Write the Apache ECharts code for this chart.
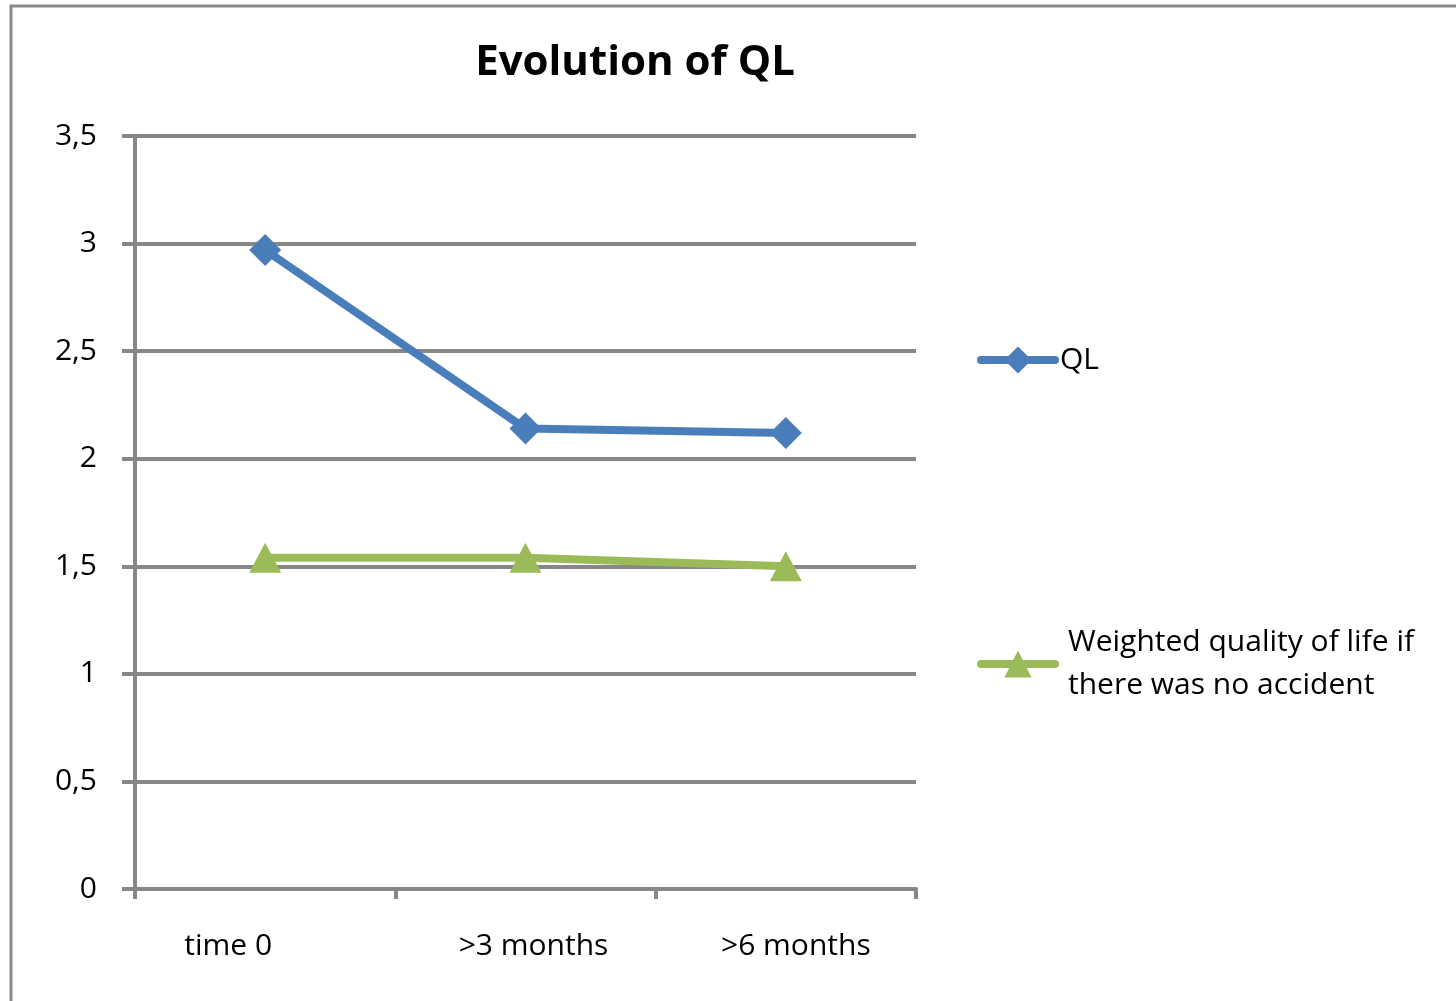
<!DOCTYPE html>
<html><head><meta charset="utf-8">
<script src="https://cdn.jsdelivr.net/npm/echarts@6/dist/echarts.min.js"></script>
<style>html,body{margin:0;padding:0;background:#fff}#c{width:1456px;height:1001px}</style>
</head><body><div id="c"></div>
<script>
const categories = ['time 0', '>3 months', '>6 months'];
const qlValues = [2.97, 2.14, 2.12];
const weightedValues = [1.54, 1.54, 1.50];
const yTicks = [0, 0.5, 1, 1.5, 2, 2.5, 3, 3.5];
const seriesNames = ['QL', 'Weighted quality of life if there was no accident'];

const FONT = 'Open Sans';
const FS = 30;
const chart = echarts.init(document.getElementById('c'));
const labelStyles = ['a', 'b', 'c'];
chart.setOption({
  animation: false,
  backgroundColor: '#fff',
  graphic: [{
    type: 'rect', shape: {x: 11, y: 6, width: 1500, height: 1100},
    style: {fill: 'none', stroke: '#898989', lineWidth: 3}, silent: true
  }],
  title: {
    text: 'Evolution of QL', left: 630, top: 37, textAlign: 'center',
    textStyle: {fontFamily: FONT, fontSize: 42, fontWeight: 'bold', color: '#000'}
  },
  legend: [{
    data: [seriesNames[0]], orient: 'vertical', left: 977, top: 345, padding: 0,
    itemWidth: 74, itemHeight: 34, itemGap: 0,
    lineStyle: {width: 8, cap: 'round'},
    textStyle: {fontFamily: FONT, fontSize: FS, color: '#000', padding: [0, 0, 0, 0]}
  }, {
    data: [seriesNames[1]], orient: 'vertical', left: 977, top: 621, padding: 0,
    itemWidth: 74, itemHeight: 34, itemGap: 0,
    lineStyle: {width: 8, cap: 'round'},
    formatter: function (n) { return 'Weighted quality of life if\nthere was no accident'; },
    textStyle: {fontFamily: FONT, fontSize: FS, lineHeight: 43, color: '#000', padding: [0, 0, 0, 8]}
  }],
  grid: {left: 135, right: 540, top: 136, bottom: 112},
  xAxis: {
    type: 'category', data: categories, boundaryGap: true,
    axisLine: {show: true, lineStyle: {color: '#878787', width: 4}},
    axisTick: {show: true, interval: 0, length: 10, lineStyle: {color: '#878787', width: 4}},
    axisLabel: {
      interval: 0, hideOverlap: false,
      margin: 42, color: '#000', fontFamily: FONT, fontSize: FS,
      formatter: function (v, i) { return '{' + labelStyles[i] + '|' + v + '}'; },
      rich: {
        a: {fontFamily: FONT, fontSize: FS, color: '#000', padding: [0, 74, 0, 0]},
        b: {fontFamily: FONT, fontSize: FS, color: '#000', padding: [0, 0, 0, 16]},
        c: {fontFamily: FONT, fontSize: FS, color: '#000', padding: [0, 0, 0, 20]}
      }
    },
    splitLine: {show: false}
  },
  yAxis: {
    type: 'value', min: 0, max: 3.5, interval: 0.5,
    axisLine: {show: true, lineStyle: {color: '#878787', width: 4}},
    axisTick: {show: true, length: 13, lineStyle: {color: '#878787', width: 4}},
    axisLabel: {
      margin: 38, color: '#000', fontFamily: FONT, fontSize: FS,
      formatter: function (v) { return String(v).replace('.', ','); }
    },
    splitLine: {show: true, lineStyle: {color: '#878787', width: 4}}
  },
  series: [{
    name: seriesNames[0], type: 'line', data: qlValues,
    symbol: 'diamond', symbolSize: 32,
    lineStyle: {color: '#4a7ebb', width: 8},
    itemStyle: {color: '#4a7ebb'}
  }, {
    name: seriesNames[1], type: 'line', data: weightedValues,
    symbol: 'triangle', symbolSize: [32, 30],
    lineStyle: {color: '#9bbb59', width: 8},
    itemStyle: {color: '#9bbb59'}
  }]
});
</script></body></html>
